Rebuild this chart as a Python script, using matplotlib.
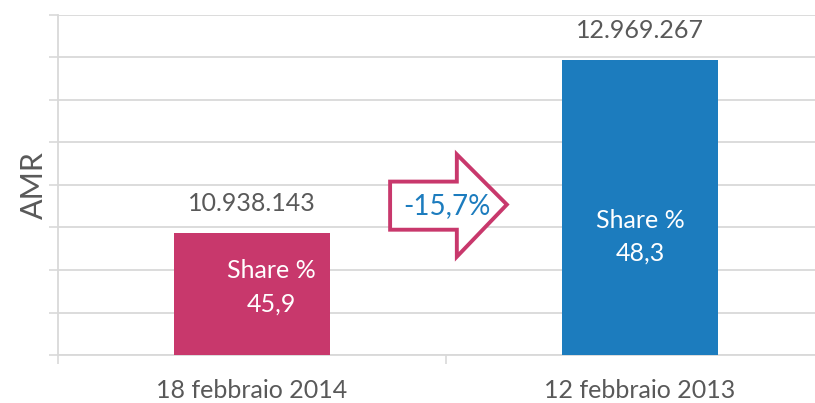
import matplotlib.pyplot as plt
from matplotlib.patches import Polygon

plt.rcParams['font.family'] = ['Lato', 'DejaVu Sans']

# -----------------------------
# data
# -----------------------------
categories = ["18 febbraio 2014", "12 febbraio 2013"]
values = [10938143, 12969267]
value_labels = ["10.938.143", "12.969.267"]
share_labels = ["Share %\n45,9", "Share %\n48,3"]
bar_colors = ["#C8386C", "#1C7CBE"]
change_label = "-15,7%"

grey = "#595959"
grid_col = "#D9D9D9"

fig = plt.figure(figsize=(8.15, 4.03), dpi=100)
ax = fig.add_axes([0.0712, 0.1191, 0.952, 0.8437])

x = list(range(len(categories)))
vals_m = [v / 1e6 for v in values]
bars = ax.bar(x, vals_m, width=0.40, color=bar_colors, zorder=3)

ax.set_xlim(-0.5, 1.5)
ax.set_ylim(9.5, 13.5)
ax.set_yticks([9.5 + 0.5 * i for i in range(9)])
ax.set_yticklabels([])
ax.set_xticks(x)
ax.set_xticklabels(categories, fontsize=18, color=grey)
ax.set_xticks([-0.5, 0.5, 1.5], minor=True)
ax.tick_params(axis="x", which="major", length=0, pad=17)
ax.tick_params(axis="x", which="minor", length=6.5, width=1.2, color=grid_col)
ax.tick_params(axis="y", length=6.5, width=1.2, color=grid_col)
ax.grid(axis="y", color=grid_col, linewidth=1.3, zorder=0)
for s in ["top", "right"]:
    ax.spines[s].set_visible(False)
for s in ["left", "bottom"]:
    ax.spines[s].set_color(grid_col)
    ax.spines[s].set_linewidth(1.3)

ax.set_ylabel("AMR", fontsize=22, color=grey, labelpad=-3)

# value labels above bars
for b, lab in zip(bars, value_labels):
    ax.annotate(lab, (b.get_x() + b.get_width() / 2, b.get_height()),
                xytext=(0, 13), textcoords="offset points",
                ha="center", va="bottom", fontsize=18, color=grey)

# share labels inside bars
share_pos = [(0.05, 10.30), (0.0, 10.89)]
for i, lab in enumerate(share_labels):
    ax.text(x[i] + share_pos[i][0], share_pos[i][1], lab, ha="center", va="center",
            fontsize=18, color="white", zorder=4, linespacing=1.55)

# arrow with change
x0, x1, x2 = 0.356, 0.528, 0.657
yb0, yb1, yh0, yh1, ytip = 10.974, 11.54, 10.656, 11.86, 11.27
arrow = Polygon([(x0, yb0), (x1, yb0), (x1, yh0), (x2, ytip), (x1, yh1), (x1, yb1), (x0, yb1)],
                closed=True, facecolor="white", edgecolor=bar_colors[0],
                linewidth=2.8, zorder=4)
ax.add_patch(arrow)
ax.text(0.503, 11.25, change_label, ha="center", va="center", fontsize=20,
        color=bar_colors[1], zorder=5)

fig.savefig("out.png", dpi=100)
